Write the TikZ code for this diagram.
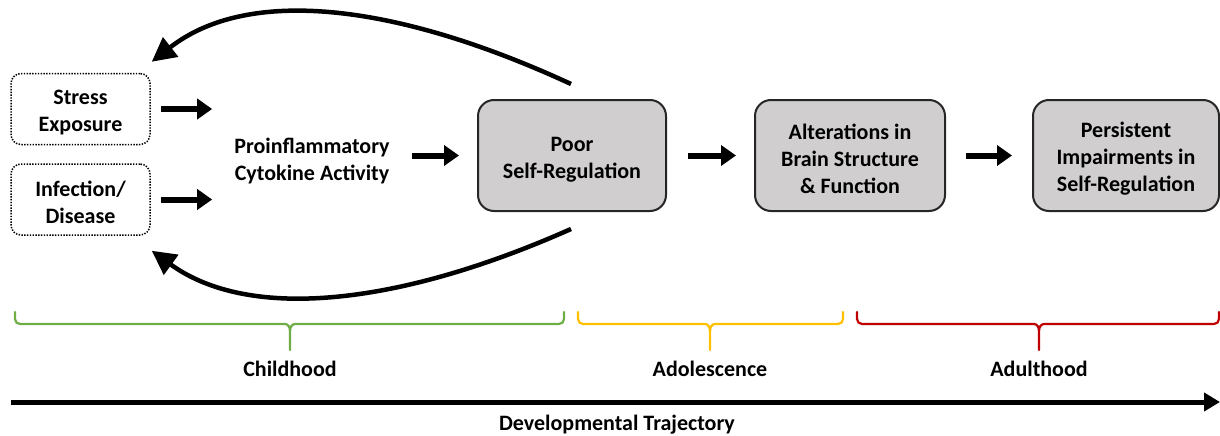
\documentclass[tikz,border=0pt]{standalone}
\usepackage{fontspec}
\setmainfont{Carlito}
\usetikzlibrary{arrows.meta,calc}
\definecolor{boxgray}{HTML}{D0CECE}
\definecolor{cgreen}{HTML}{70AD47}
\definecolor{cyellow}{HTML}{FFC000}
\definecolor{cred}{HTML}{C00000}
\newcommand{\tl}{\rule{0pt}{22pt}}
\newcommand{\mybrace}[4]{%
  \draw[brace,#4] (#1,312) -- (#1,319) to[out=-90,in=180] (#1+5,324) -- (#2-5,324)
    to[out=0,in=90] (#2,331) -- (#2,350);
  \draw[brace,#4] (#2,331) to[out=90,in=180] (#2+5,324) -- (#3-5,324)
    to[out=0,in=-90] (#3,319) -- (#3,312);}
\begin{document}
\begin{tikzpicture}[x=1pt,y=-1pt,
  font=\fontsize{22pt}{27pt}\selectfont\bfseries,
  dotbox/.style={draw, dash pattern=on 1.4pt off 1.4pt, line width=1.5pt, rounded corners=10pt,
    minimum width=139pt, minimum height=71pt, align=center, inner sep=0pt},
  graybox/.style={draw=black!85, fill=boxgray, line width=2pt, rounded corners=16pt,
    minimum width=188pt, minimum height=111pt, align=center, inner sep=0pt},
  fat/.style={line width=6pt, -{Triangle[length=15pt,width=20pt]}},
  loop/.style={line width=4.5pt, -{Triangle[length=24pt,width=24pt]}},
  brace/.style={line width=2.2pt, line cap=round, line join=round},
  lbl/.style={inner sep=0pt, align=center}]
\useasboundingbox (0,0) rectangle (1220,436);

\node[dotbox] (stress) at (80.5,109) {\tl Stress\\Exposure};
\node[dotbox] (infect) at (80.5,199.5) {\tl Infection/\\Disease};
\node[lbl] (cyto) at (312,158) {\tl Proinflammatory\\Cytokine Activity};
\node[graybox] (poor) at (572,155.5) {\tl Poor\\Self-Regulation};
\node[graybox, minimum width=190pt] (alter) at (850,155.5) {\tl Alterations in\\Brain Structure\\\& Function};
\node[graybox, minimum width=186pt] (persist) at (1126,155.5) {\tl Persistent\\Impairments in\\Self-Regulation};

\draw[fat, shorten <=10pt, shorten >=22pt] (stress.east) -- (stress.east -| cyto.west);
\draw[fat, shorten <=10pt, shorten >=22pt] (infect.east) -- (infect.east -| cyto.west);
\draw[fat, shorten <=22pt, shorten >=18pt] (cyto.east |- poor.west) -- (poor.west);
\draw[fat, shorten <=21pt, shorten >=18pt] (poor.east) -- (alter.west);
\draw[fat, shorten <=20pt, shorten >=20pt] (alter.east) -- (persist.west);

\coordinate (t0) at ($(poor.north)+(-1,-15)$);
\coordinate (t1) at ($(stress.north east)+(1,-11)$);
\coordinate (b0) at ($(poor.south)+(-1,17)$);
\coordinate (b1) at ($(infect.south east)+(1,15)$);
\draw[loop] (t0) .. controls (400,5) and (250,-15) .. (t1);
\draw[loop] (b0) .. controls (400,305) and (250,322) .. (b1);

\mybrace{15}{290}{564}{cgreen}
\mybrace{578}{710}{843}{cyellow}
\mybrace{857}{1039}{1219}{cred}
\node[lbl] (child) at (290,369) {Childhood};
\node[lbl] (adol) at (710,369) {Adolescence};
\node[lbl] (adult) at (1039,369) {Adulthood};

\coordinate (ax0) at (11,402);
\coordinate (ax1) at (1220,402);
\draw[line width=5pt, -{Triangle[length=16pt,width=18pt]}] (ax0) -- (ax1);
\node[lbl] (traj) at (617,425) {Developmental Trajectory};
\end{tikzpicture}
\end{document}
